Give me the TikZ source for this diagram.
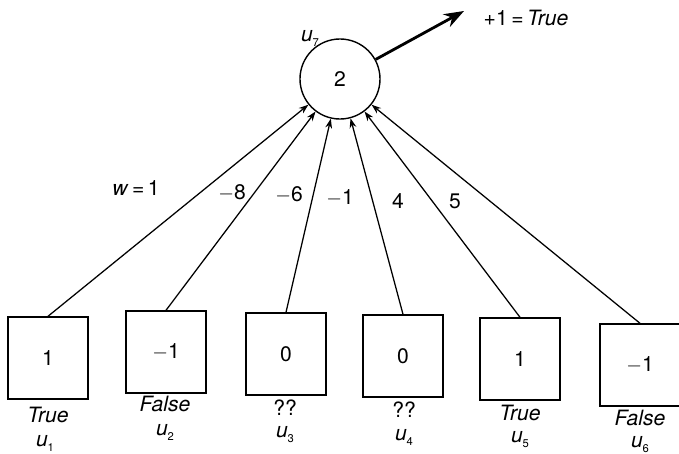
\documentclass[tikz,border=0pt]{standalone}
\usepackage{fontspec}
\setmainfont{TeX Gyre Heros}
\usetikzlibrary{arrows.meta}

\newcommand{\uname}[1]{\textit{u}\raisebox{-0.45ex}{\footnotesize #1}}

\begin{document}
\begin{tikzpicture}[
    x=0.025cm, y=-0.025cm, font=\fontsize{15}{18}\selectfont,
    >={Stealth[length=2.4mm,width=1.7mm]},
    neuron/.style={circle, draw, line width=1pt, minimum size=2cm, inner sep=0pt},
    inbox/.style={rectangle, draw, line width=1pt, minimum width=2cm, minimum height=2.05cm},
    val/.style={font=\fontsize{15}{18}\selectfont\itshape, inner sep=1pt},
    wgt/.style={inner sep=1pt},
    arr/.style={->, line width=0.9pt},
    outarr/.style={-{Stealth[length=5mm,width=3.6mm]}, line width=2pt},
  ]
    \useasboundingbox (0,0) rectangle (679,454);

    % output unit
    \node[neuron] (u7) at (340,79) {2};
    \node at (310,38) {\uname{7}};
    \coordinate (tip) at (464,11);
    \node[inner sep=1pt] (res) at (526,18) {+1\,=\,\textit{True}};
    \draw[outarr] (u7) -- (tip);

    % input units
    \node[inbox] (b1) at (48,358)  {1};
    \node[inbox] (b2) at (166,352) {$-$1};
    \node[inbox] (b3) at (286,354) {0};
    \node[inbox] (b4) at (403,356) {0};
    \node[inbox] (b5) at (520,359) {1};
    \node[inbox] (b6) at (640,365) {$-$1};

    \node[val] (v1) at (48,415)  {True};
    \node[val] (v2) at (165,404) {False};
    \node[inner sep=1pt] (v3) at (285,408) {??};
    \node[inner sep=1pt] (v4) at (404,410) {??};
    \node[val] (v5) at (520,413) {True};
    \node[val] (v6) at (640,418) {False};

    \node[inner sep=1pt] (n1) at (45,443)  {\uname{1}};
    \node[inner sep=1pt] (n2) at (165,432) {\uname{2}};
    \node[inner sep=1pt] (n3) at (285,435) {\uname{3}};
    \node[inner sep=1pt] (n4) at (404,437) {\uname{4}};
    \node[inner sep=1pt] (n5) at (520,440) {\uname{5}};
    \node[inner sep=1pt] (n6) at (640,445) {\uname{6}};

    % weighted connections
    \foreach \i in {1,...,6}
      \draw[arr] (b\i.north) -- (u7);

    \node[wgt] at (136,188) {\textit{w}\,=\,1};
    \node[wgt] at (232,193) {$-$8};
    \node[wgt] at (289,195) {$-$6};
    \node[wgt] at (340,198) {$-$1};
    \node[wgt] at (398,201) {4};
    \node[wgt] at (455,201) {5};
  \end{tikzpicture}
\end{document}
